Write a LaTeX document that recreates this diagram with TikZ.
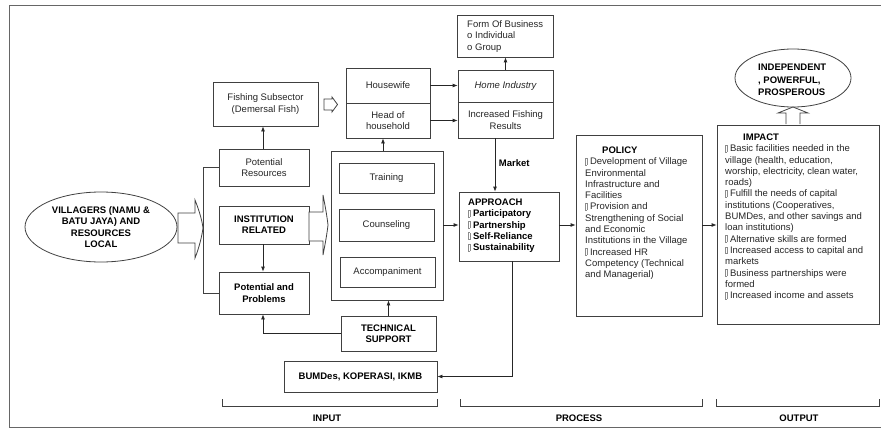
\documentclass[tikz,border=0pt]{standalone}
\usepackage{fontspec}
\setmainfont{Liberation Sans}
\usetikzlibrary{shapes.geometric,arrows.meta}
\newcommand\bul{{\color{black!45}\setlength\fboxsep{0pt}\setlength\fboxrule{0.4pt}\fbox{\rule{0pt}{6.5pt}\hspace{1.4pt}}}\hspace{2.6pt}}
\begin{document}
\begin{tikzpicture}[x=1pt,y=-1pt,
  font=\fontsize{9.5}{11.3}\selectfont,
  box/.style={draw=black!75, line width=0.8pt, inner sep=0pt, align=center, text=black!85},
  bbox/.style={box, font=\fontsize{9.5}{11.3}\selectfont\bfseries, text=black},
  arr/.style={-{Latex[length=5pt,width=4pt]}, draw=black!85, line width=0.8pt},
  ln/.style={draw=black!75, line width=0.8pt},
  hollow/.style={draw=black!75, line width=0.8pt, fill=white, line join=miter},
  txt/.style={inner sep=0pt, align=left, anchor=north west, text=black!85},
  lbl/.style={font=\fontsize{9.5}{11.3}\selectfont\bfseries, inner sep=0pt, text=black}
]
\useasboundingbox (0,0) rectangle (881,428);
% frame
\draw[draw=black!60, line width=1pt] (881,6) -- (9,6) -- (9,427) -- (881,427);

% left column
\node[box, ellipse, minimum width=152pt, minimum height=70pt, font=\fontsize{9.5}{11.3}\selectfont\bfseries, text=black] (vil) at (101,227) {VILLAGERS (NAMU \&\\BATU JAYA) AND\\RESOURCES\\LOCAL};
\node[box, minimum width=105pt, minimum height=44pt] (fish) at (265.5,104) {Fishing Subsector\\(Demersal Fish)};
\node[box, minimum width=90pt, minimum height=37pt] (potres) at (264,167.5) {Potential\\Resources};
\node[bbox, minimum width=90pt, minimum height=38pt] (inst) at (264,225) {INSTITUTION\\RELATED};
\node[bbox, minimum width=90pt, minimum height=42pt] (potprob) at (264,293) {Potential and\\Problems};

% middle group
\node[box, minimum width=112pt, minimum height=149pt] (big) at (387,225.5) {};
\node[box, minimum width=95pt, minimum height=30pt] (train) at (386.5,178) {Training};
\node[box, minimum width=95pt, minimum height=32pt] (couns) at (386.5,225) {Counseling};
\node[box, minimum width=95pt, minimum height=30pt] (accomp) at (387.5,272) {Accompaniment};
\node[box, minimum width=84pt, minimum height=35pt] (hw) at (388,85.5) {Housewife};
\node[box, minimum width=84pt, minimum height=35pt] (hoh) at (388,120.5) {Head of\\household};
\node[bbox, minimum width=95pt, minimum height=35pt] (tech) at (388.5,333.5) {TECHNICAL\\SUPPORT};
\node[bbox, minimum width=153pt, minimum height=31pt] (bum) at (360.5,376.5) {BUMDes, KOPERASI, IKMB};

% right of middle
\node[box, minimum width=95pt, minimum height=32pt, font=\fontsize{9.5}{11.3}\selectfont\itshape] (home) at (505.5,86) {Home Industry};
\node[box, minimum width=95pt, minimum height=36pt] (incf) at (505.5,120) {Increased Fishing\\Results};
\node[box, minimum width=96pt, minimum height=42pt] (form) at (505,36) {};
\node[txt] (formt) at (467,20.5) {Form Of Business\\o Individual\\o Group};
\node[box, minimum width=100pt, minimum height=69pt] (appr) at (509,226.5) {};
\node[txt, font=\fontsize{9.5}{11.3}\selectfont\bfseries, text=black] (apprt) at (468,198.6) {APPROACH\\\bul Participatory\\\bul Partnership\\\bul Self-Reliance\\\bul Sustainability};

% policy
\node[box, minimum width=126pt, minimum height=181pt] (pol) at (639,225.5) {};
\node[txt] (polt) at (585,146.6) {\hspace*{17pt}\textbf{\color{black}POLICY}\\\bul Development of Village\\Environmental\\Infrastructure and\\Facilities\\\bul Provision and\\Strengthening of Social\\and Economic\\Institutions in the Village\\\bul Increased HR\\Competency (Technical\\and Managerial)};

% impact
\node[box, minimum width=162pt, minimum height=199pt] (imp) at (798,224.5) {};
\node[txt] (impt) at (725,133.6) {\hspace*{18pt}\textbf{\color{black}IMPACT}\\\bul Basic facilities needed in the\\village (health, education,\\worship, electricity, clean water,\\roads)\\\bul Fulfill the needs of capital\\institutions (Cooperatives,\\BUMDes, and other savings and\\loan institutions)\\\bul Alternative skills are formed\\\bul Increased access to capital and\\markets\\\bul Business partnerships were\\formed\\\bul Increased income and assets};
\node[box, ellipse, minimum width=116pt, minimum height=58pt] (ind) at (793,78) {};
\node[txt, font=\fontsize{9.5}{12.8}\selectfont\bfseries, text=black] (indt) at (758,63.6) {INDEPENDENT\\, POWERFUL,\\PROSPEROUS};

% hollow arrows
\draw[hollow] (178,213) -- (195,213) -- (195,200) .. controls (199,210) and (202,220) .. (203,228) .. controls (202,236) and (199,248) .. (195,258) -- (195,243) -- (178,243) -- cycle;
\draw[hollow] (309,212) -- (323,212) -- (323,195) .. controls (325,205) and (327,216) .. (328,225) .. controls (327,234) and (325,245) .. (323,255) -- (323,241) -- (309,241) -- cycle;
\draw[hollow] (324,99) -- (332,99) -- (332,97) -- (337.5,104.5) -- (332,112) -- (332,110) -- (324,110) -- cycle;
\draw[hollow] (786,124) -- (786,113) -- (778,113) -- (793,107) -- (808,113) -- (800,113) -- (800,124);

% bracket left
\coordinate (brx) at (203,0);
\draw[ln] (potres.west) -- (potres.west -| brx) -- (potprob.west -| brx) -- (potprob.west);

% arrows
\draw[arr] ([xshift=-1pt]potres.north) -- ([xshift=-1pt]potres.north |- fish.south);
\draw[arr] ([xshift=-1pt]inst.south) -- ([xshift=-1pt]inst.south |- potprob.north);
\draw[arr] ([xshift=-4pt]big.north) -- ([xshift=-4pt]big.north |- hoh.south);
\draw[arr] (hw.east) -- (hw.east -| home.west);
\draw[arr] (hoh.east) -- (hoh.east -| incf.west);
\draw[arr] (home.north) -- (home.north |- form.south);
\draw[arr] ([xshift=-10.5pt]incf.south) -- ([xshift=-10.5pt]incf.south |- appr.north) node[lbl, pos=0.46, right=3.5pt] (mkt) {Market};
\draw[arr] (big.east |- couns.east) -- (couns.east -| appr.west);
\draw[arr] (appr.east |- couns.east) -- (couns.east -| pol.west);
\draw[arr] (pol.east |- couns.east) -- (couns.east -| imp.west);
\draw[arr] (tech.north) -- (tech.north |- big.south);
\draw[arr] (tech.west) -| ([xshift=-1pt]potprob.south);
\draw[arr] ([xshift=3pt]appr.south) |- (bum.east);

% bottom brackets
\coordinate (bi1) at (222,399); \coordinate (bi2) at (437,399);
\coordinate (bp1) at (460,399); \coordinate (bp2) at (702,399);
\coordinate (bo1) at (716,399); \coordinate (bo2) at (879,399);
\draw[ln] (bi1) -- ++(0,7) -| (bi2);
\draw[ln] (bp1) -- ++(0,7) -| (bp2);
\draw[ln] (bo1) -- ++(0,7) -| (bo2);
\node[lbl] (inl) at (327,418) {INPUT};
\node[lbl] (prl) at (579,418) {PROCESS};
\node[lbl] (oul) at (799,418) {OUTPUT};
\end{tikzpicture}
\end{document}
